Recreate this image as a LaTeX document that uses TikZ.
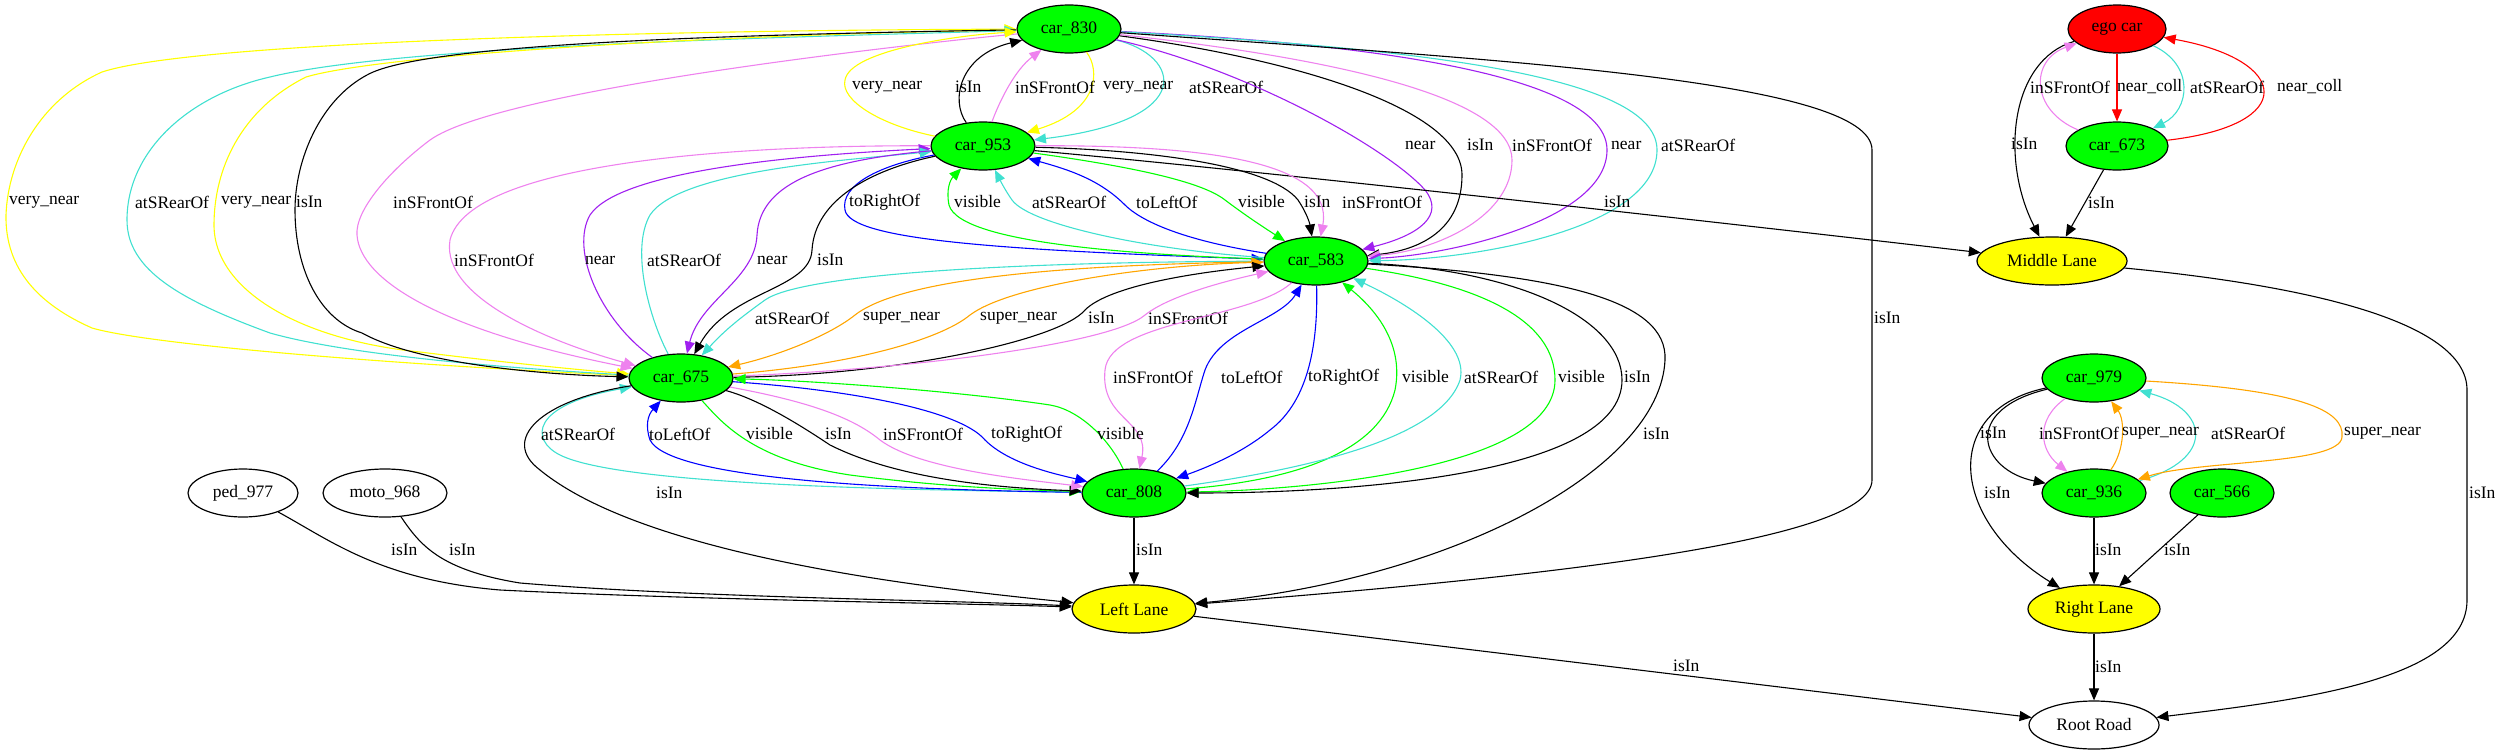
\documentclass[tikz,border=0pt]{standalone}
\usepackage{fontspec}
\setmainfont{Liberation Serif}
\usetikzlibrary{shapes.geometric,arrows.meta}
\definecolor{gvgreen}{HTML}{00FF00}
\definecolor{gvyellow}{HTML}{FFFF00}
\definecolor{gvred}{HTML}{FF0000}
\definecolor{turq}{HTML}{40E0D0}
\definecolor{viol}{HTML}{EE82EE}
\definecolor{purp}{HTML}{A020F0}
\definecolor{oran}{HTML}{FFA500}
\definecolor{gvblue}{HTML}{0000FF}
\begin{document}
\begin{tikzpicture}[x=1pt,y=-1pt,
  base/.style={ellipse, draw=black, line width=1.2pt, minimum height=48pt, inner sep=0pt, font=\fontsize{17.5}{20}\selectfont},
  gnode/.style={base, fill=gvgreen, minimum width=104pt},
  ynode/.style={base, fill=gvyellow},
  wnode/.style={base, fill=white},
  rnode/.style={base, fill=gvred, minimum width=98pt},
  lbl/.style={anchor=west, inner sep=0pt, font=\fontsize{17.5}{20}\selectfont},
  edge/.style={line width=1.1pt, -{Triangle[length=12pt,width=10pt]}},
  bk/.style={edge, black},
  yl/.style={edge, gvyellow},
  tq/.style={edge, turq},
  vi/.style={edge, viol},
  pu/.style={edge, purp},
  og/.style={edge, oran},
  bl/.style={edge, gvblue},
  gr/.style={edge, gvgreen},
  rd/.style={edge, gvred}]
\useasboundingbox (0,0) rectangle (2502,755);
% nodes
\node[gnode] (n830) at (1069,29) {car\_830};
\node[gnode] (n953) at (983,146) {car\_953};
\node[gnode] (n583) at (1316,261) {car\_583};
\node[gnode] (n675) at (681,378) {car\_675};
\node[gnode] (n808) at (1134,493) {car\_808};
\node[ynode, minimum width=124pt] (LL) at (1134,609) {Left Lane};
\node[wnode, minimum width=110pt] (ped) at (243,493) {ped\_977};
\node[wnode, minimum width=124pt] (moto) at (385,493) {moto\_968};
\node[rnode] (ego) at (2117,29) {ego car};
\node[gnode, minimum width=102pt] (n673) at (2117,146) {car\_673};
\node[ynode, minimum width=150pt] (ML) at (2052,261) {Middle Lane};
\node[gnode] (n979) at (2094,378) {car\_979};
\node[gnode] (n936) at (2094,493) {car\_936};
\node[gnode] (n566) at (2222,493) {car\_566};
\node[ynode, minimum width=132pt] (RL) at (2094,609) {Right Lane};
\node[wnode, minimum width=130pt] (RR) at (2094,725) {Root Road};

% group A: car_830 <-> car_675 (left loop)
\draw[yl] (n675) .. controls (400,365) and (150,345) .. (92,328) .. controls (40,305) and (5,270) .. (6,215) .. controls (8,160) and (40,100) .. (102,72) .. controls (200,40) and (700,30) .. (n830);
\draw[tq] (n675) .. controls (450,365) and (330,350) .. (270,333) .. controls (180,300) and (127,270) .. (127,220) .. controls (127,150) and (190,95) .. (270,77) .. controls (400,45) and (800,37) .. (n830);
\draw[yl] (n830) .. controls (700,35) and (380,55) .. (306,77) .. controls (240,110) and (214,170) .. (214,225) .. controls (214,290) and (300,340) .. (420,352) .. controls (500,362) and (580,370) .. (n675);
\draw[bk] (n830) .. controls (700,35) and (420,45) .. (367,75) .. controls (320,100) and (295,160) .. (295,210) .. controls (295,270) and (320,320) .. (362,333) .. controls (420,365) and (550,375) .. (n675);
\draw[vi] (n830) .. controls (900,45) and (500,90) .. (430,140) .. controls (390,170) and (355,210) .. (357,235) .. controls (360,280) and (440,330) .. (n675);
\node[lbl] (lA1) at (9,202) {very\_near};
\node[lbl] (lA2) at (135,202) {atSRearOf};
\node[lbl] (lA3) at (221,202) {very\_near};
\node[lbl] (lA4) at (296,202) {isIn};
\node[lbl] (lA5) at (393,202) {inSFrontOf};

% group B: car_830 <-> car_953
\draw[yl] (n953) .. controls (880,125) and (840,100) .. (845,80) .. controls (850,50) and (960,35) .. (n830);
\draw[bk] (n953) .. controls (950,100) and (960,55) .. (n830);
\draw[vi] (n953) .. controls (1000,100) and (1015,70) .. (n830);
\draw[yl] (n830) .. controls (1100,70) and (1100,110) .. (n953);
\draw[tq] (n830) .. controls (1180,55) and (1200,120) .. (n953);
\node[lbl] (lB1) at (852,87) {very\_near};
\node[lbl] (lB2) at (955,87) {isIn};
\node[lbl] (lB3) at (1015,87) {inSFrontOf};
\node[lbl] (lB4) at (1103,87) {very\_near};
\node[lbl] (lB5) at (1189,87) {atSRearOf};

% group C: car_830 -> car_583, Left Lane
\draw[pu] (n830) .. controls (1250,70) and (1390,150) .. (1425,190) .. controls (1445,215) and (1420,235) .. (n583);
\draw[bk] (n830) .. controls (1300,60) and (1462,110) .. (1462,175) .. controls (1462,230) and (1420,250) .. (n583);
\draw[vi] (n830) .. controls (1350,60) and (1512,100) .. (1512,160) .. controls (1512,215) and (1440,250) .. (n583);
\draw[pu] (n830) .. controls (1400,45) and (1607,80) .. (1607,150) .. controls (1607,220) and (1450,255) .. (n583);
\draw[tq] (n830) .. controls (1450,50) and (1657,80) .. (1657,150) .. controls (1657,230) and (1470,260) .. (n583);
\draw[bk] (n830) .. controls (1500,60) and (1872,80) .. (1872,150) -- (1872,480) .. controls (1872,545) and (1500,580) .. (LL);
\node[lbl] (lC1) at (1405,145) {near};
\node[lbl] (lC2) at (1467,145) {isIn};
\node[lbl] (lC3) at (1512,145) {inSFrontOf};
\node[lbl] (lC4) at (1611,145) {near};
\node[lbl] (lC5) at (1661,145) {atSRearOf};
\node[lbl] (lC6) at (1874,318) {isIn};

% group D: car_953 -> Middle Lane
\draw[bk] (n953) .. controls (1250,170) and (1700,220) .. (ML);
\node[lbl] (lD1) at (1604,202) {isIn};

% group E: car_953 <-> car_583
\draw[bl] (n953) .. controls (880,165) and (840,185) .. (845,210) .. controls (850,240) and (1000,250) .. (n583);
\draw[gr] (n583) .. controls (1150,255) and (960,245) .. (949,205) .. controls (946,190) and (950,180) .. (n953);
\draw[tq] (n583) .. controls (1150,250) and (1030,225) .. (1012,200) .. controls (1005,190) and (1000,180) .. (n953);
\draw[bl] (n583) .. controls (1180,240) and (1140,220) .. (1125,205) .. controls (1100,180) and (1070,170) .. (n953);
\draw[gr] (n953) .. controls (1120,165) and (1200,180) .. (1225,200) .. controls (1245,215) and (1260,225) .. (n583);
\draw[bk] (n953) .. controls (1150,150) and (1270,165) .. (1298,200) .. controls (1308,215) and (1310,225) .. (n583);
\draw[vi] (n953) .. controls (1200,145) and (1335,160) .. (n583);
\node[lbl] (lE1) at (849,202) {toRightOf};
\node[lbl] (lE2) at (954,202) {visible};
\node[lbl] (lE3) at (1032,202) {atSRearOf};
\node[lbl] (lE4) at (1136,202) {toLeftOf};
\node[lbl] (lE5) at (1238,202) {visible};
\node[lbl] (lE6) at (1304,202) {isIn};
\node[lbl] (lE7) at (1342,202) {inSFrontOf};

% group F: car_953 <-> car_675
\draw[vi] (n953) .. controls (750,145) and (470,160) .. (450,240) .. controls (440,300) and (560,345) .. (n675);
\draw[pu] (n675) .. controls (600,320) and (570,250) .. (590,215) .. controls (620,170) and (800,155) .. (n953);
\draw[tq] (n675) .. controls (650,320) and (630,250) .. (650,215) .. controls (680,170) and (850,160) .. (n953);
\draw[pu] (n953) .. controls (830,160) and (760,180) .. (757,235) .. controls (755,280) and (700,300) .. (n675);
\draw[bk] (n953) .. controls (870,170) and (815,200) .. (812,250) .. controls (810,290) and (730,290) .. (n675);
\node[lbl] (lF1) at (454,260) {inSFrontOf};
\node[lbl] (lF2) at (585,260) {near};
\node[lbl] (lF3) at (647,260) {atSRearOf};
\node[lbl] (lF4) at (757,260) {near};
\node[lbl] (lF5) at (817,260) {isIn};

% group G: car_583 <-> car_675
\draw[tq] (n583) .. controls (1000,262) and (800,275) .. (765,300) .. controls (740,318) and (725,330) .. (n675);
\draw[og] (n583) .. controls (1050,265) and (900,280) .. (855,315) .. controls (830,335) and (780,355) .. (n675);
\draw[og] (n675) .. controls (850,365) and (940,340) .. (970,315) .. controls (1010,285) and (1150,265) .. (n583);
\draw[bk] (n675) .. controls (900,375) and (1060,340) .. (1085,310) .. controls (1110,285) and (1200,272) .. (n583);
\draw[vi] (n675) .. controls (900,370) and (1110,345) .. (1145,315) .. controls (1170,295) and (1230,280) .. (n583);
\node[lbl] (lG1) at (755,318) {atSRearOf};
\node[lbl] (lG2) at (863,318) {super\_near};
\node[lbl] (lG3) at (980,318) {super\_near};
\node[lbl] (lG4) at (1088,318) {isIn};
\node[lbl] (lG5) at (1148,318) {inSFrontOf};

% group H: car_583 <-> car_808, Left Lane
\draw[vi] (n583) .. controls (1250,320) and (1110,320) .. (1105,370) .. controls (1100,420) and (1150,420) .. (n808);
\draw[bl] (n808) .. controls (1190,440) and (1195,400) .. (1205,370) .. controls (1220,330) and (1280,320) .. (n583);
\draw[bl] (n583) .. controls (1318,340) and (1310,400) .. (1270,430) .. controls (1240,455) and (1200,470) .. (n808);
\draw[gr] (n808) .. controls (1300,480) and (1380,450) .. (1395,390) .. controls (1405,340) and (1370,305) .. (n583);
\draw[tq] (n808) .. controls (1300,470) and (1440,440) .. (1460,380) .. controls (1470,340) and (1400,300) .. (n583);
\draw[gr] (n583) .. controls (1480,285) and (1555,320) .. (1555,380) .. controls (1555,470) and (1300,490) .. (n808);
\draw[bk] (n583) .. controls (1520,270) and (1622,320) .. (1622,380) .. controls (1622,475) and (1350,493) .. (n808);
\draw[bk] (n583) .. controls (1560,275) and (1668,300) .. (1665,360) .. controls (1660,470) and (1450,580) .. (LL);
\node[lbl] (lH1) at (1113,377) {inSFrontOf};
\node[lbl] (lH2) at (1221,377) {toLeftOf};
\node[lbl] (lH3) at (1308,377) {toRightOf};
\node[lbl] (lH4) at (1402,377) {visible};
\node[lbl] (lH5) at (1464,377) {atSRearOf};
\node[lbl] (lH6) at (1558,377) {visible};
\node[lbl] (lH7) at (1624,377) {isIn};
\node[lbl] (lH8) at (1643,434) {isIn};

% group I: car_675 <-> car_808, Left Lane
\draw[tq] (n808) .. controls (900,490) and (620,485) .. (560,455) .. controls (530,440) and (530,405) .. (n675);
\draw[bk] (n675) .. controls (540,400) and (500,440) .. (540,470) .. controls (650,560) and (950,590) .. (LL);
\draw[bl] (n808) .. controls (900,490) and (670,480) .. (650,440) .. controls (645,425) and (648,415) .. (n675);
\draw[gr] (n675) .. controls (720,420) and (750,460) .. (850,475) .. controls (950,488) and (1030,490) .. (n808);
\draw[bk] (n675) .. controls (760,400) and (800,425) .. (830,445) .. controls (900,480) and (1000,488) .. (n808);
\draw[vi] (n675) .. controls (800,400) and (850,415) .. (880,440) .. controls (920,470) and (1030,480) .. (n808);
\draw[bl] (n675) .. controls (850,390) and (960,410) .. (985,440) .. controls (1010,465) and (1060,475) .. (n808);
\draw[gr] (n808) .. controls (1110,440) and (1080,410) .. (1050,405) .. controls (950,390) and (800,380) .. (n675);
\node[lbl] (lI1) at (541,434) {atSRearOf};
\node[lbl] (lI2) at (649,434) {toLeftOf};
\node[lbl] (lI3) at (746,434) {visible};
\node[lbl] (lI4) at (825,434) {isIn};
\node[lbl] (lI5) at (883,434) {inSFrontOf};
\node[lbl] (lI6) at (991,434) {toRightOf};
\node[lbl] (lI7) at (1097,434) {visible};
\node[lbl] (lI8) at (656,493) {isIn};

% group J: into Left Lane, to Root Road
\draw[bk] (n808) -- (LL);
\draw[bk] (ped) .. controls (330,540) and (380,580) .. (500,590) .. controls (700,600) and (950,603) .. (LL);
\draw[bk] (moto) .. controls (420,545) and (440,570) .. (520,583) .. controls (700,598) and (950,600) .. (LL);
\draw[bk] (LL) -- (RR);
\node[lbl] (lJ1) at (1136,550) {isIn};
\node[lbl] (lJ2) at (391,550) {isIn};
\node[lbl] (lJ3) at (449,550) {isIn};
\node[lbl] (lJ4) at (1673,666) {isIn};

% group K: right part
\draw[bk] (ego) .. controls (2010,60) and (2000,160) .. (ML);
\draw[vi] (n673) .. controls (2030,110) and (2030,60) .. (ego);
\draw[rd] (ego) -- (n673);
\draw[tq] (ego) .. controls (2195,65) and (2190,110) .. (n673);
\draw[rd] (n673) .. controls (2300,125) and (2290,60) .. (ego);
\draw[bk] (n673) -- (ML);
\draw[bk] (ML) .. controls (2300,285) and (2467,320) .. (2467,390) -- (2467,600) .. controls (2467,680) and (2300,700) .. (RR);
\node[lbl] (lK1) at (2011,144) {isIn};
\node[lbl] (lK2) at (2030,87) {inSFrontOf};
\node[lbl] (lK3) at (2117,87) {near\_coll};
\node[lbl] (lK4) at (2190,87) {atSRearOf};
\node[lbl] (lK5) at (2277,87) {near\_coll};
\node[lbl] (lK6) at (2088,203) {isIn};
\node[lbl] (lK7) at (2469,493) {isIn};

\draw[bk] (n979) .. controls (1960,410) and (1980,470) .. (n936);
\draw[bk] (n979) .. controls (1940,410) and (1950,520) .. (RL);
\draw[vi] (n979) .. controls (2035,420) and (2040,450) .. (n936);
\draw[og] (n936) .. controls (2125,450) and (2125,420) .. (n979);
\draw[tq] (n936) .. controls (2215,460) and (2210,410) .. (n979);
\draw[og] (n979) .. controls (2300,390) and (2345,410) .. (2342,437) .. controls (2340,465) and (2200,460) .. (n936);
\draw[bk] (n936) -- (RL);
\draw[bk] (n566) -- (RL);
\draw[bk] (RL) -- (RR);
\node[lbl] (lK8) at (1980,433) {isIn};
\node[lbl] (lK9) at (2039,433) {inSFrontOf};
\node[lbl] (lK10) at (2122,433) {super\_near};
\node[lbl] (lK11) at (2211,433) {atSRearOf};
\node[lbl] (lK12) at (2344,433) {super\_near};
\node[lbl] (lK13) at (1984,493) {isIn};
\node[lbl] (lK14) at (2095,550) {isIn};
\node[lbl] (lK15) at (2164,550) {isIn};
\node[lbl] (lK16) at (2095,667) {isIn};
\end{tikzpicture}
\end{document}
